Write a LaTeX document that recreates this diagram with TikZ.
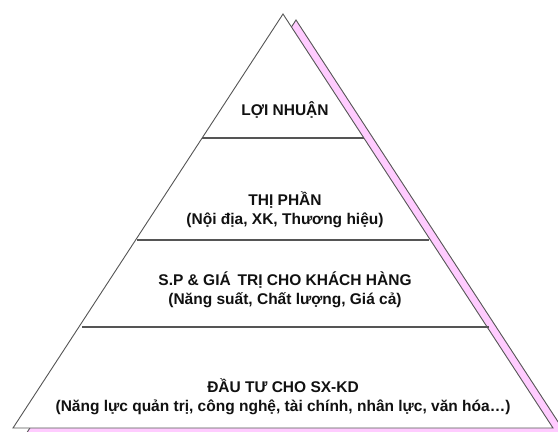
\documentclass[tikz,border=0pt]{standalone}
\usepackage{fontspec}
\setmainfont{Liberation Sans}
\definecolor{shadowpink}{HTML}{FFCCFF}
\definecolor{edgegray}{HTML}{555555}
\definecolor{txt}{HTML}{111111}
\begin{document}
\begin{tikzpicture}[x=1bp,y=-1bp,
  lbl/.style={font=\fontsize{15.5bp}{19bp}\selectfont\bfseries, text=txt, align=center, inner sep=0pt},
  tier/.style={draw=edgegray, line width=1.3bp},
  outline/.style={draw=edgegray, line width=0.9bp}]
\useasboundingbox (0,0) rectangle (558,431);
\fill[white] (0,0) rectangle (558,431);
% shadow triangle
\filldraw[shadowpink, outline] (296,20) -- (296-270,434) -- (296+270,434) -- cycle;
% main triangle
\filldraw[fill=white, outline] (283,14) -- (13,428) -- (553,428) -- cycle;
% tier lines
\draw[tier] (202,138) -- (364,138);
\draw[tier] (137,240) -- (429,240);
\draw[tier] (82,327) -- (489,327);
% labels
\node[lbl] (t1) at (285,110) {LỢI NHUẬN};
\node[lbl] (t2) at (285,210) {THỊ PHẦN\\(Nội địa, XK, Thương hiệu)};
\node[lbl] (t3) at (285,290) {S.P \& GIÁ\, TRỊ CHO KHÁCH HÀNG\\(Năng suất, Chất lượng, Giá cả)};
\node[lbl] (t4) at (283,397) {ĐẦU TƯ CHO SX-KD\\(Năng lực quản trị, công nghệ, tài chính, nhân lực, văn hóa…)};
\end{tikzpicture}
\end{document}
